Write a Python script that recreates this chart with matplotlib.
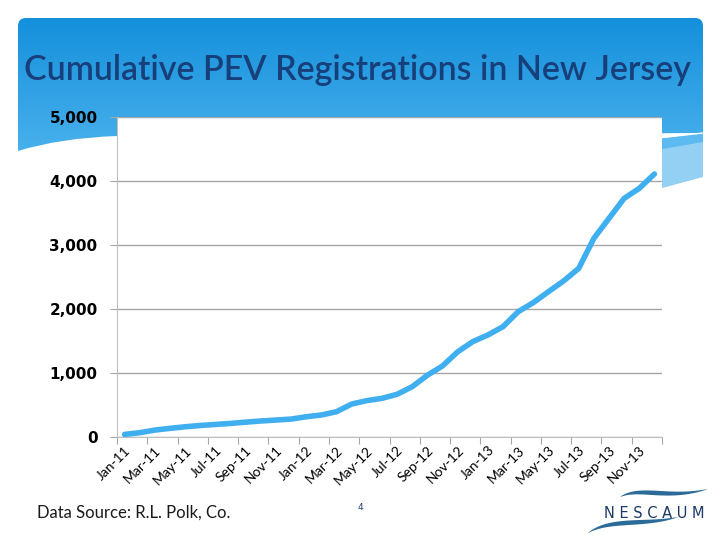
import matplotlib.pyplot as plt
import numpy as np
from matplotlib.patches import PathPatch, Polygon
from matplotlib.path import Path

# monthly cumulative registrations, Jan-11 .. Dec-13
months = ['Jan-11', 'Feb-11', 'Mar-11', 'Apr-11', 'May-11', 'Jun-11',
          'Jul-11', 'Aug-11', 'Sep-11', 'Oct-11', 'Nov-11', 'Dec-11',
          'Jan-12', 'Feb-12', 'Mar-12', 'Apr-12', 'May-12', 'Jun-12',
          'Jul-12', 'Aug-12', 'Sep-12', 'Oct-12', 'Nov-12', 'Dec-12',
          'Jan-13', 'Feb-13', 'Mar-13', 'Apr-13', 'May-13', 'Jun-13',
          'Jul-13', 'Aug-13', 'Sep-13', 'Oct-13', 'Nov-13', 'Dec-13']
registrations = [40, 67, 108, 135, 160, 180, 196, 212, 232, 250, 265, 280,
                 316, 344, 395, 515, 568, 604, 667, 786, 965, 1110, 1330,
                 1490, 1594, 1724, 1958, 2100, 2271, 2438, 2635, 3104, 3417,
                 3729, 3885, 4110]
y_ticks = [0, 1000, 2000, 3000, 4000, 5000]

title = 'Cumulative PEV Registrations in New Jersey'
source = 'Data Source: R.L. Polk, Co.'


def swoosh(p0, p1, p2, p3, width, n=60):
    """Tapered bezier stroke as a filled polygon (pixel coords)."""
    t = np.linspace(0, 1, n)[:, None]
    pts = ((1 - t) ** 3 * np.array(p0) + 3 * (1 - t) ** 2 * t * np.array(p1)
           + 3 * (1 - t) * t ** 2 * np.array(p2) + t ** 3 * np.array(p3))
    d = np.gradient(pts, axis=0)
    nrm = np.column_stack([-d[:, 1], d[:, 0]])
    nrm /= np.linalg.norm(nrm, axis=1)[:, None]
    w = width * np.sin(np.pi * t[:, 0]) ** 0.8 / 2
    upper = pts + nrm * w[:, None]
    lower = pts - nrm * w[:, None]
    return np.vstack([upper, lower[::-1]])


fig = plt.figure(figsize=(7.2, 5.4), dpi=100)
fig.patch.set_facecolor('white')

# slide background drawn in pixel coordinates
bg = fig.add_axes([0, 0, 1, 1], zorder=0)
bg.axis('off')

# wave bands on the right
bg.add_patch(Polygon([(640, 141), (703, 133), (703, 177), (640, 194)],
                     closed=True, facecolor='#93d0f4', edgecolor='none'))
bg.add_patch(Polygon([(640, 141), (703, 133), (703, 142), (640, 153)],
                     closed=True, facecolor='#5dbaf0', edgecolor='none'))
bg.plot([640, 703], [140, 133], color='white', lw=1)

# dark blue header panel with curved bottom edge
r = 8
verts = [(18 + r, 18), (703 - r, 18), (703, 18), (703, 18 + r),
         (703, 133), (117, 136), (60, 138), (18, 151),
         (18, 18 + r), (18, 18), (18 + r, 18), (18 + r, 18)]
codes = [Path.MOVETO, Path.LINETO, Path.CURVE3, Path.CURVE3,
         Path.LINETO, Path.LINETO, Path.CURVE3, Path.CURVE3,
         Path.LINETO, Path.CURVE3, Path.CURVE3, Path.CLOSEPOLY]
panel = PathPatch(Path(verts, codes), facecolor='none', edgecolor='none')
bg.add_patch(panel)
grad = np.linspace(0, 1, 256).reshape(-1, 1)
cmap = plt.matplotlib.colors.LinearSegmentedColormap.from_list(
    'hdr', ['#1490dc', '#4ab1ec'])
img = bg.imshow(grad, cmap=cmap, extent=[18, 703, 155, 18], aspect='auto',
                zorder=0.5)
img.set_clip_path(panel)
bg.set_xlim(0, 720)
bg.set_ylim(540, 0)

bg.text(358, 70, title, ha='center', va='center', fontsize=24.5,
        family='Lato', fontweight='semibold', color='#173f7a')
bg.text(37, 513, source, ha='left', va='center', fontsize=12,
        family='Lato', color='#1a1a1a')
bg.text(360, 508, '4', ha='center', va='center', fontsize=6.5,
        color='#1f3f77')

# NESCAUM logo
bg.text(654, 513, 'N E S C A U M', ha='center', va='center', fontsize=10.5,
        family='DejaVu Sans', color='#1d3a64')
for p in [((620, 497), (640, 486), (668, 500), (708, 489)),
          ((588, 533), (610, 518), (645, 526), (678, 517))]:
    bg.add_patch(Polygon(swoosh(*p, width=4.5), closed=True,
                         facecolor='#2c6b98', edgecolor='none'))

# chart
ax = fig.add_axes([117 / 720, 103 / 540, 545 / 720, 320 / 540], zorder=1)
ax.set_facecolor('white')
x = np.arange(len(months))
ax.plot(x, registrations, color='#40aff0', lw=4, solid_capstyle='round',
        zorder=3)

ax.set_ylim(0, 5000)
ax.set_yticks(y_ticks)
ax.set_yticklabels(['{:,}'.format(v) for v in y_ticks], fontweight='bold',
                   fontsize=11, color='black')
ax.yaxis.grid(True, color='#a6a6a6', lw=1)
ax.set_axisbelow(True)

ax.set_xlim(-0.5, len(months) - 0.5)
ax.set_xticks(np.arange(-0.5, len(months), 2))
ax.set_xticklabels([])
ax.set_xticks(x[::2], minor=True)
ax.set_xticklabels(months[::2], minor=True, rotation=45, ha='right',
                   rotation_mode='anchor', fontsize=10, family='Lato')
ax.tick_params(axis='x', which='minor', length=0, pad=5)
ax.tick_params(axis='x', which='major', length=5, color='#a6a6a6')
ax.tick_params(axis='y', length=5, color='#a6a6a6', pad=9)

for side in ['top', 'right']:
    ax.spines[side].set_visible(False)
ax.spines['left'].set_color('#bfbfbf')
ax.spines['bottom'].set_color('#bfbfbf')

fig.savefig('out.png', dpi=100, facecolor='white')
